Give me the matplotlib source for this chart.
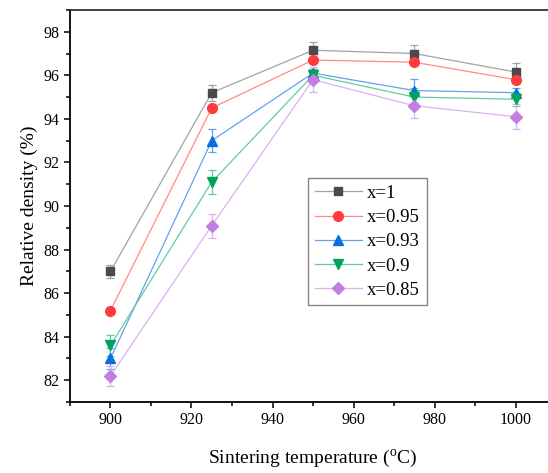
import matplotlib
matplotlib.use('Agg')
import matplotlib.pyplot as plt
from matplotlib.ticker import MultipleLocator

plt.rcParams['font.family'] = ['Liberation Serif', 'DejaVu Serif']
plt.rcParams['mathtext.fontset'] = 'custom'
plt.rcParams['mathtext.rm'] = 'Liberation Serif'

# sintering temperatures (C)
temps = [900, 925, 950, 975, 1000]

labels = ['x=1', 'x=0.95', 'x=0.93', 'x=0.9', 'x=0.85']

dens_1 = [87.0, 95.2, 97.15, 97.0, 96.15]
dens_095 = [85.2, 94.5, 96.7, 96.6, 95.8]
dens_093 = [83.0, 93.0, 96.1, 95.3, 95.2]
dens_09 = [83.6, 91.1, 96.0, 95.0, 94.9]
dens_085 = [82.2, 89.1, 95.8, 94.6, 94.1]

err_1 = [0.3, 0.37, 0.38, 0.37, 0.4]
err_095 = [0.12, 0.15, 0.15, 0.12, 0.15]
err_093 = [0.5, 0.53, 0.2, 0.55, 0.2]
err_09 = [0.5, 0.55, 0.3, 0.4, 0.3]
err_085 = [0.45, 0.55, 0.58, 0.56, 0.56]

series = [dens_1, dens_095, dens_093, dens_09, dens_085]
errors = [err_1, err_095, err_093, err_09, err_085]
markers = ['s', 'o', '^', 'v', 'D']
marker_cols = ['#4a4a4a', '#ff3b3b', '#0a6fe0', '#00a35c', '#c27ee0']
line_cols = ['#a3a3a3', '#ff8a8a', '#62a2ee', '#62cc9c', '#dcb0f0']
msizes = [6.3, 7, 7.2, 7.2, 6.5]

fig = plt.figure(figsize=(5.48, 4.73), dpi=100)
ax = fig.add_axes([0.1277, 0.150, 0.887, 0.829])

for y, e, m, mc, lc, ms, lab in zip(series, errors, markers, marker_cols, line_cols, msizes, labels):
    ax.errorbar(temps, y, yerr=e, fmt='none', ecolor=lc, elinewidth=0.9,
                capsize=2.8, capthick=0.9, zorder=2)
    ax.plot(temps, y, color=lc, lw=0.9, marker=m, markersize=ms,
            markerfacecolor=mc, markeredgecolor=mc, label=lab, zorder=3)

ax.set_xlim(890, 1010)
ax.set_ylim(81, 99)
ax.xaxis.set_major_locator(MultipleLocator(20))
ax.xaxis.set_minor_locator(MultipleLocator(10))
ax.yaxis.set_major_locator(MultipleLocator(2))
ax.yaxis.set_minor_locator(MultipleLocator(1))
ax.tick_params(which='major', direction='out', length=4, width=1.1, labelsize=11.5)
ax.tick_params(which='minor', direction='out', length=3, width=1.1)

for side in ['left', 'bottom']:
    ax.spines[side].set_linewidth(1.3)
ax.spines['top'].set_linewidth(1.3)
ax.spines['top'].set_color('#333333')

ax.set_xlabel('Sintering temperature ($\\mathregular{^{o}}$C)', fontsize=14, labelpad=14)
ax.set_ylabel('Relative density (%)', fontsize=14, labelpad=4)

leg = ax.legend(loc='upper left', bbox_to_anchor=(0.49, 0.571), borderaxespad=0,
                fontsize=13.5, frameon=True, fancybox=False, handlelength=2.5,
                labelspacing=0.38, handletextpad=0.3, borderpad=0.35)
leg.get_frame().set_edgecolor('#666666')
leg.get_frame().set_linewidth(1.0)

fig.savefig('out.png', dpi=100)
